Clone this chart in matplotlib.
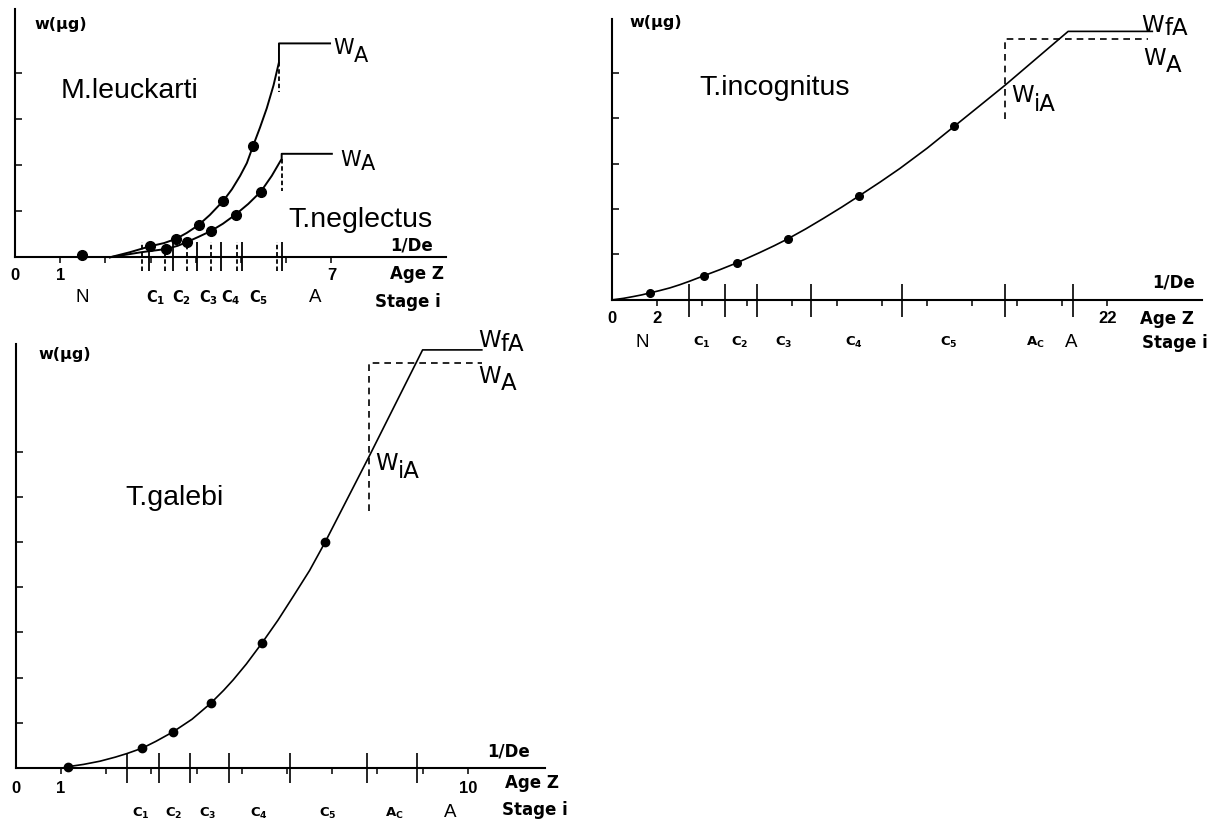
import matplotlib
matplotlib.use("Agg")
import matplotlib.pyplot as plt

plt.rcParams['mathtext.fontset'] = 'dejavusans'

W_PX, H_PX = 1223, 829

# ---------------- data ----------------
# Panel A: M. leuckarti and T. neglectus
naup_age = [1.48]
naup_w = [0.04]

ml_dot_age = [2.99, 3.56, 4.06, 4.61, 5.27]
ml_dot_w = [0.24, 0.40, 0.70, 1.23, 2.43]
ml_curve_age = [2.10, 2.30, 2.54, 2.99, 3.30, 3.56, 3.80, 4.06, 4.31, 4.61, 4.80, 4.98,
                5.13, 5.27, 5.42, 5.57, 5.72, 5.84]
ml_curve_w = [0.00, 0.05, 0.11, 0.24, 0.31, 0.40, 0.53, 0.70, 0.92, 1.23, 1.48, 1.77,
              2.05, 2.43, 2.82, 3.24, 3.74, 4.24]
ml_adult_w = 4.65
ml_adult_end = 6.97
ml_stage_age = [2.80, 3.32, 3.80, 4.33, 4.92, 5.80]

tn_dot_age = [3.34, 3.80, 4.33, 4.88, 5.44]
tn_dot_w = [0.18, 0.33, 0.57, 0.93, 1.43]
tn_curve_age = [2.10, 2.54, 2.79, 3.34, 3.60, 3.80, 4.05, 4.33, 4.60, 4.88, 5.16, 5.44,
                5.68, 5.90]
tn_curve_w = [0.00, 0.07, 0.11, 0.18, 0.25, 0.33, 0.44, 0.57, 0.73, 0.93, 1.16, 1.43,
              1.77, 2.14]
tn_adult_w = 2.25
tn_adult_end = 7.01
tn_stage_age = [2.97, 3.49, 4.03, 4.55, 5.03, 5.90]

p1_stage_names = ['N', 'C1', 'C2', 'C3', 'C4', 'C5', 'A']
p1_stage_mid = [1.48, 3.12, 3.69, 4.29, 4.78, 5.38, 6.64]

# Panel B: T. incognitus
ti_dot_age = [1.68, 4.08, 5.53, 7.80, 10.98, 15.20]
ti_dot_w = [0.15, 0.53, 0.81, 1.34, 2.29, 3.82]
ti_curve_age = [0.05, 0.50, 0.94, 1.30, 1.68, 2.10, 2.56, 3.00, 3.45, 4.08, 4.80, 5.53,
                6.56, 7.20, 7.80, 8.60, 9.38, 10.20, 10.98, 11.90, 12.78, 14.00, 15.20,
                16.30, 17.47, 20.26]
ti_curve_w = [0.00, 0.03, 0.07, 0.105, 0.15, 0.20, 0.26, 0.33, 0.41, 0.53, 0.665, 0.81,
              1.04, 1.19, 1.34, 1.56, 1.79, 2.04, 2.29, 2.59, 2.89, 3.34, 3.82,
              4.26, 4.73, 5.91]
ti_wfa_end = 24.0
ti_ia_age = 17.47
ti_wa = 5.74
ti_wa_end = 23.8
ti_dash_low = 3.98
ti_stage_age = [3.42, 4.99, 6.43, 8.81, 12.89, 17.46, 20.46]
p2_stage_names = ['N', 'C1', 'C2', 'C3', 'C4', 'C5', 'Ac', 'A']
p2_stage_mid = [1.32, 4.0, 5.66, 7.6, 10.74, 14.95, 18.8, 20.4]

# Panel C: T. galebi
tg_dot_age = [1.16, 2.80, 3.48, 4.31, 5.45, 6.84]
tg_dot_w = [0.03, 0.44, 0.80, 1.43, 2.77, 4.99]
tg_curve_age = [1.16, 1.50, 1.86, 2.20, 2.46, 2.80, 3.10, 3.48, 3.90, 4.31, 4.60, 4.81,
                5.10, 5.45, 5.80, 6.14, 6.50, 6.84, 7.82, 9.00]
tg_curve_w = [0.03, 0.08, 0.15, 0.24, 0.32, 0.44, 0.59, 0.80, 1.08, 1.43, 1.72, 1.95,
              2.30, 2.77, 3.27, 3.80, 4.37, 4.99, 6.90, 9.25]
tg_wfa_end = 10.31
tg_ia_age = 7.82
tg_wa = 8.95
tg_wa_end = 10.31
tg_dash_low = 5.69
tg_stage_age = [2.46, 3.17, 3.85, 4.71, 6.07, 7.76, 8.87]
p3_stage_names = ['C1', 'C2', 'C3', 'C4', 'C5', 'Ac', 'A']
p3_stage_mid = [2.77, 3.49, 4.25, 5.38, 6.91, 8.38, 9.62]

# ---------------- drawing ----------------
fig = plt.figure(figsize=(W_PX / 100, H_PX / 100), dpi=100)
renderer = fig.canvas.get_renderer()

SANS = 'Liberation Sans'
BOLD = dict(family='DejaVu Sans', fontweight='bold')


def px_text(x, y, s, **kw):
    return fig.text(x / W_PX, 1 - y / H_PX, s, **kw)


def make_panel(x0, y0, ux, uy, xmax, ymax, xticks, yticks):
    ax = fig.add_axes([x0 / W_PX, 1 - y0 / H_PX, xmax * ux / W_PX, ymax * uy / H_PX])
    ax.set_xlim(0, xmax)
    ax.set_ylim(0, ymax)
    ax.patch.set_visible(False)
    for s in ('top', 'right'):
        ax.spines[s].set_visible(False)
    for s in ('left', 'bottom'):
        ax.spines[s].set_linewidth(1.5)
    ax.set_xticks(xticks)
    ax.set_yticks(yticks)
    ax.tick_params(axis='x', direction='out', length=4, width=1.1, labelbottom=False)
    ax.tick_params(axis='y', direction='in', length=5, width=1.1, labelleft=False)
    return ax


def note(ax, x, dy, s, ha='center', **kw):
    ax.annotate(s, xy=(x, 0), xytext=(0, -dy), textcoords='offset pixels',
                ha=ha, va='center', annotation_clip=False, **kw)


def stage_label(ax, x, dy, name, csize):
    if name in ('N', 'A'):
        note(ax, x, dy, name, family=SANS, fontsize=13.5)
    elif name == 'Ac':
        note(ax, x, dy, r'$\mathbf{A}_{\mathbf{C}}$', fontsize=csize)
    else:
        note(ax, x, dy, r'$\mathbf{C}_{\mathbf{%s}}$' % name[1:], fontsize=csize)


def w_label(wx, wy, drop, sub, size):
    t = px_text(wx, wy, 'W', family='DejaVu Sans', fontsize=size, va='baseline', ha='left')
    right = t.get_window_extent(renderer).x1
    fig.text(right / W_PX, 1 - (wy + drop) / H_PX, sub, family='DejaVu Sans',
             fontsize=size, va='baseline', ha='left')


# ---- Panel 1 ----
ax1 = make_panel(15, 258.3, 45.2, 46, 9.53, 5.40, [1, 2, 3, 4, 5, 6, 7], [1, 2, 3, 4])
ax1.plot(ml_curve_age + [ml_curve_age[-1], ml_adult_end],
         ml_curve_w + [ml_adult_w, ml_adult_w], color='black', lw=1.4, clip_on=False)
ax1.plot(tn_curve_age + [tn_curve_age[-1], tn_adult_end],
         tn_curve_w + [tn_adult_w, tn_adult_w], color='black', lw=1.4, clip_on=False)
ax1.plot([ml_curve_age[-1]] * 2, [ml_curve_w[-1], 3.59], color='black', lw=1.3,
         ls=(0, (2.5, 1.5)))
ax1.plot([tn_curve_age[-1]] * 2, [tn_curve_w[-1], 1.45], color='black', lw=1.3,
         ls=(0, (2.5, 1.5)))
ax1.plot(naup_age + ml_dot_age, naup_w + ml_dot_w, 'o', color='black', ms=7, clip_on=False)
ax1.plot(tn_dot_age, tn_dot_w, 'o', color='black', ms=7, clip_on=False)
ax1.vlines(ml_stage_age, -0.30, 0.33, color='black', lw=1.3, linestyles=[(0, (2.5, 1.5))],
           clip_on=False)
ax1.vlines(tn_stage_age, -0.30, 0.33, color='black', lw=1.3, clip_on=False)

for x, s in [(0, '0'), (1, '1'), (7, '7')]:
    note(ax1, x, 17, s, family=SANS, fontweight='bold', fontsize=12)
for x, s in zip(p1_stage_mid, p1_stage_names):
    stage_label(ax1, x, 39, s, 10.5)
note(ax1, 8.30, 16, 'Age Z', ha='left', fontsize=12, **BOLD)
note(ax1, 7.96, 44, 'Stage i', ha='left', fontsize=12, **BOLD)
note(ax1, 9.25, -13, '1/De', ha='right', fontsize=12, **BOLD)
px_text(61, 25, 'w(µg)', ha='center', va='center', fontsize=11.5, **BOLD)
px_text(61, 98, 'M.leuckarti', family=SANS, fontsize=20.5, va='baseline')
px_text(288, 227, 'T.neglectus', family=SANS, fontsize=20.5, va='baseline')
w_label(333, 54, 8, 'A', 15)
w_label(340, 166, 4, 'A', 15)

# ---- Panel 2 ----
ax2 = make_panel(612.3, 300.7, 22.5, 45.4, 26.2, 6.18, list(range(2, 23, 2)), [1, 2, 3, 4, 5])
ax2.plot(ti_curve_age + [ti_wfa_end], ti_curve_w + [ti_curve_w[-1]], color='black', lw=1.2,
         clip_on=False)
ax2.plot([ti_ia_age, ti_ia_age, ti_wa_end], [ti_dash_low, ti_wa, ti_wa], color='black', lw=1.2,
         ls=(0, (4, 3)))
ax2.plot(ti_dot_age, ti_dot_w, 'o', color='black', ms=5.5, clip_on=False)
ax2.vlines(ti_stage_age, -0.38, 0.35, color='black', lw=1.2, clip_on=False)
for x, s in [(0, '0'), (2, '2'), (22, '22')]:
    note(ax2, x, 18, s, family=SANS, fontweight='bold', fontsize=12)
for x, s in zip(p2_stage_mid, p2_stage_names):
    stage_label(ax2, x, 42, s, 9.5)
note(ax2, 23.47, 18, 'Age Z', ha='left', fontsize=12, **BOLD)
note(ax2, 23.56, 42, 'Stage i', ha='left', fontsize=12, **BOLD)
note(ax2, 25.9, -18, '1/De', ha='right', fontsize=12, **BOLD)
px_text(656, 22, 'w(µg)', ha='center', va='center', fontsize=11.5, **BOLD)
px_text(699, 95, 'T.incognitus', family=SANS, fontsize=20.5, va='baseline')
w_label(1141.7, 32, 3, 'fA', 16.5)
w_label(1143, 65, 7, 'A', 16.5)
w_label(1011.7, 102, 9, 'iA', 16.5)

# ---- Panel 3 ----
ax3 = make_panel(15.8, 769, 45.2, 45.2, 11.7, 9.38, list(range(1, 11)), list(range(1, 8)))
ax3.plot(tg_curve_age + [tg_wfa_end], tg_curve_w + [tg_curve_w[-1]], color='black', lw=1.2,
         clip_on=False)
ax3.plot([tg_ia_age, tg_ia_age, tg_wa_end], [tg_dash_low, tg_wa, tg_wa], color='black', lw=1.2,
         ls=(0, (4, 3)))
ax3.plot(tg_dot_age, tg_dot_w, 'o', color='black', ms=6, clip_on=False)
ax3.vlines(tg_stage_age, -0.34, 0.34, color='black', lw=1.2, clip_on=False)
for x, s in [(0, '0'), (1, '1'), (10, '10')]:
    note(ax3, x, 20, s, family=SANS, fontweight='bold', fontsize=12)
for x, s in zip(p3_stage_mid, p3_stage_names):
    stage_label(ax3, x, 44, s, 9.5)
note(ax3, 10.82, 14, 'Age Z', ha='left', fontsize=12, **BOLD)
note(ax3, 10.76, 41, 'Stage i', ha='left', fontsize=12, **BOLD)
note(ax3, 10.42, -17, '1/De', ha='left', fontsize=12, **BOLD)
px_text(65, 355, 'w(µg)', ha='center', va='center', fontsize=11.5, **BOLD)
px_text(125, 505, 'T.galebi', family=SANS, fontsize=20.5, va='baseline')
w_label(478, 347, 4, 'fA', 16.5)
w_label(478, 383, 7, 'A', 16.5)
w_label(375, 470, 8, 'iA', 16.5)

fig.savefig('out.png', dpi=100, facecolor='white')
